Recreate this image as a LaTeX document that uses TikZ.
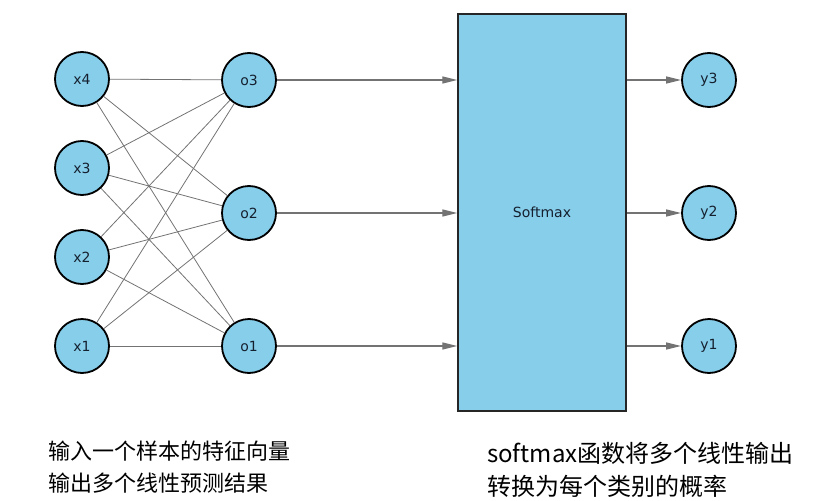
\documentclass[tikz,border=0pt]{standalone}
\usepackage{fontspec}
\setmainfont{DejaVu Sans}
\newfontfamily\cjk{Noto Sans CJK SC}
\usetikzlibrary{arrows.meta}
\definecolor{sky}{HTML}{87CEEB}
\definecolor{edgegray}{HTML}{737373}
\definecolor{ink}{HTML}{15202E}
\tikzset{
  neuron/.style={circle,draw=black,fill=sky,line width=1.8pt,minimum size=54pt,inner sep=0pt,text=ink,font=\fontsize{14}{16}\selectfont},
  wire/.style={draw=edgegray,line width=0.8pt},
  arr/.style={draw=edgegray,line width=1.4pt,-{Triangle[length=15pt,width=7pt]}},
  caption/.style={anchor=base west,inner sep=0pt,font=\cjk\fontsize{22}{26}\selectfont},
  captionr/.style={anchor=base west,inner sep=0pt,font=\cjk\fontsize{24}{28}\selectfont}
}
\begin{document}
\begin{tikzpicture}[x=1pt,y=-1pt]
\useasboundingbox (0,0) rectangle (834,500);
\node[neuron] (x4) at (82,79) {x4};
\node[neuron] (x3) at (82,168) {x3};
\node[neuron] (x2) at (82,257) {x2};
\node[neuron] (x1) at (82,346) {x1};
\node[neuron] (o3) at (249,80) {o3};
\node[neuron] (o2) at (249,213) {o2};
\node[neuron] (o1) at (249,346) {o1};
\node[rectangle,draw=black!85,fill=sky,line width=1.5pt,minimum width=168pt,minimum height=397pt,inner sep=0pt,text=ink,font=\fontsize{14}{16}\selectfont] (box) at (542,212.5) {Softmax};
\node[neuron] (y3) at (709,80) {y3};
\node[neuron] (y2) at (709,213) {y2};
\node[neuron] (y1) at (709,346) {y1};
\foreach \i in {x1,x2,x3,x4}{
  \foreach \j in {o1,o2,o3}{
    \draw[wire] (\i) -- (\j);
  }
}
\foreach \j in {o1,o2,o3}{
  \draw[arr] (\j) -- (\j -| box.west);
}
\draw[arr] (y3 -| box.east) -- (y3);
\draw[arr] (y2 -| box.east) -- (y2);
\draw[arr] (y1 -| box.east) -- (y1);
\node[caption] (c1) at (48,459) {输入一个样本的特征向量};
\node[caption] (c2) at (48,491) {输出多个线性预测结果};
\node[captionr] (c3) at (487,462) {softmax函数将多个线性输出};
\node[captionr] (c4) at (487,495) {转换为每个类别的概率};
\end{tikzpicture}
\end{document}
